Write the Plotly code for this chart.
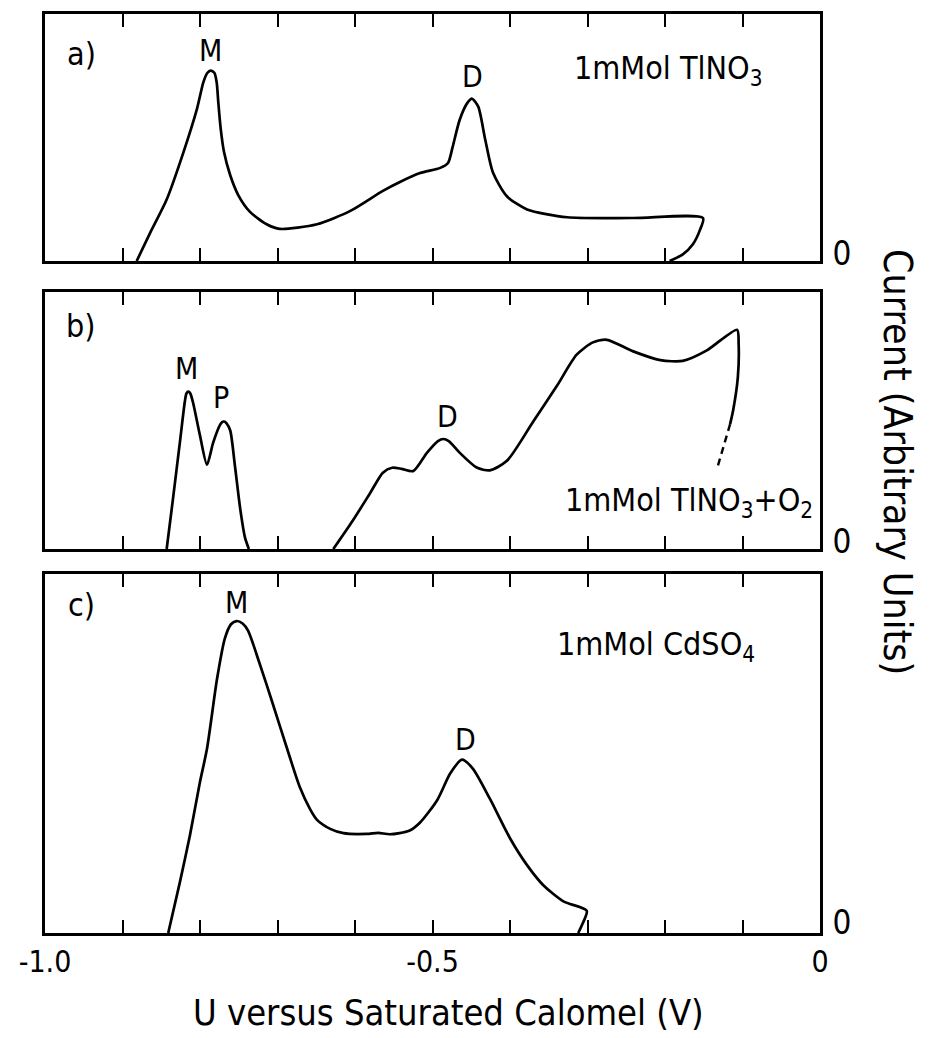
import plotly.graph_objects as go

# ---------------- data (U in V vs SCE, current in arbitrary units) ----------------
# panel a) 1 mMol TlNO3
a_u = [-0.8817, -0.8645, -0.843, -0.8215, -0.804, -0.7957, -0.7906, -0.7862, -0.7815,
       -0.7785, -0.7764, -0.7733, -0.769, -0.761, -0.7505, -0.7355, -0.714, -0.697,
       -0.649, -0.606, -0.564, -0.542, -0.516, -0.490, -0.480, -0.474, -0.465, -0.455,
       -0.449, -0.441, -0.432, -0.422, -0.404, -0.378, -0.326, -0.241, -0.151,
       -0.155, -0.164, -0.177, -0.194]
a_i = [0.0, 1.13, 2.49, 4.39, 6.15, 7.23, 7.61, 7.71, 7.62,
       7.24, 6.43, 5.36, 4.41, 3.47, 2.66, 1.99, 1.49, 1.30,
       1.49, 2.03, 2.84, 3.20, 3.56, 3.77, 3.97, 4.62, 5.71, 6.40,
       6.57, 6.25, 4.92, 3.58, 2.62, 2.09, 1.77, 1.74, 1.74,
       1.25, 0.68, 0.27, 0.0]

# panel b) 1 mMol TlNO3 + O2  (two branches + dashed continuation)
b1_u = [-0.843, -0.835, -0.826, -0.8195, -0.8175, -0.815, -0.8125, -0.809, -0.800, -0.791,
        -0.783, -0.774, -0.7715, -0.769, -0.766, -0.761, -0.755, -0.748, -0.742, -0.737]
b1_i = [0.0, 1.92, 4.14, 5.75, 6.05, 6.12, 6.05, 5.70, 4.41, 3.28,
        4.14, 4.84, 4.94, 4.96, 4.90, 4.61, 3.25, 1.54, 0.45, 0.0]
b2_u = [-0.628, -0.603, -0.581, -0.564, -0.552, -0.540, -0.525, -0.507, -0.493, -0.486,
        -0.479, -0.465, -0.443, -0.426, -0.404, -0.370, -0.339, -0.314, -0.293, -0.275,
        -0.241, -0.206, -0.177, -0.146, -0.107, -0.105, -0.106, -0.112, -0.116]
b2_i = [0.0, 1.10, 2.15, 2.97, 3.16, 3.12, 3.03, 3.75, 4.20, 4.28,
        4.20, 3.75, 3.17, 3.06, 3.43, 4.96, 6.37, 7.56, 8.04, 8.14,
        7.69, 7.35, 7.32, 7.73, 8.53, 7.98, 6.69, 5.41, 4.86]
b3_u = [-0.116, -0.133]
b3_i = [4.86, 3.11]

# panel c) 1 mMol CdSO4
c_u = [-0.841, -0.826, -0.813, -0.800, -0.791, -0.778, -0.768, -0.760, -0.7527, -0.745,
       -0.738, -0.723, -0.706, -0.688, -0.671, -0.658, -0.649, -0.632, -0.615, -0.585,
       -0.570, -0.555, -0.530, -0.516, -0.494, -0.477, -0.462, -0.448, -0.426, -0.400,
       -0.378, -0.357, -0.331, -0.301, -0.307, -0.312]
c_i = [0.0, 1.41, 2.72, 4.21, 5.13, 7.08, 8.20, 8.60, 8.69, 8.62,
       8.42, 7.50, 6.38, 5.16, 4.05, 3.45, 3.15, 2.90, 2.78, 2.76,
       2.79, 2.75, 2.85, 3.08, 3.70, 4.45, 4.83, 4.58, 3.74, 2.64,
       1.89, 1.33, 0.88, 0.62, 0.23, 0.0]

x_major = [-1.0, -0.5, 0.0]
x_ticklabels = ["-1.0", "-0.5", "0"]
x_minor_step = 0.1
x_title = "U versus Saturated Calomel (V)"
y_title = "Current (Arbitrary Units)"

# ---------------- figure ----------------
W, H = 929, 1038
ML, MR, MT, MB = 45, 109, 14, 105
PW, PH = W - ML - MR, H - MT - MB
FONT = "DejaVu Sans Condensed, Liberation Sans Narrow, DejaVu Sans, sans-serif"


def px(x, y):
    return (x - ML) / PW, (H - MB - y) / PH


LINE = dict(color="black", width=2.7, shape="spline", smoothing=0.7)
fig = go.Figure()
fig.add_trace(go.Scatter(x=a_u, y=a_i, mode="lines", line=LINE, xaxis="x", yaxis="y"))
fig.add_trace(go.Scatter(x=b1_u, y=b1_i, mode="lines", line=LINE, xaxis="x2", yaxis="y2"))
fig.add_trace(go.Scatter(x=b2_u, y=b2_i, mode="lines", line=LINE, xaxis="x2", yaxis="y2"))
fig.add_trace(go.Scatter(x=b3_u, y=b3_i, mode="lines",
                         line=dict(color="black", width=2.4, dash="7px,5px"),
                         xaxis="x2", yaxis="y2"))
fig.add_trace(go.Scatter(x=c_u, y=c_i, mode="lines", line=LINE, xaxis="x3", yaxis="y3"))

domains = {
    "a": [px(0, 261)[1], px(0, 14)[1]],
    "b": [px(0, 549)[1], px(0, 292)[1]],
    "c": [px(0, 933)[1], px(0, 574)[1]],
}


def xax(anchor, show_labels):
    return dict(domain=[0, 1], anchor=anchor, range=[-1.0, 0.0], tickmode="array",
                tickvals=x_major, ticktext=x_ticklabels, showticklabels=show_labels,
                ticks="inside", ticklen=13, tickwidth=2, tickcolor="black",
                minor=dict(dtick=x_minor_step, tick0=0, ticks="inside", ticklen=13,
                           tickwidth=2, tickcolor="black", showgrid=False),
                showline=True, linewidth=2.7, linecolor="black", mirror="ticks",
                showgrid=False, zeroline=False,
                tickfont=dict(family=FONT, size=30, color="black"),
                ticklabelstandoff=0)


def yax(anchor, dom):
    return dict(domain=dom, anchor=anchor, range=[0, 10], side="right",
                tickmode="array", tickvals=[0.3], ticktext=["0"], ticks="",
                showline=True, linewidth=2.7, linecolor="black", mirror=True,
                showgrid=False, zeroline=False, ticklabelstandoff=3,
                tickfont=dict(family=FONT, size=33, color="black"))


fig.update_layout(
    width=W, height=H,
    margin=dict(l=ML, r=MR, t=MT, b=MB, autoexpand=False),
    paper_bgcolor="white", plot_bgcolor="white", showlegend=False,
    xaxis=xax("y", False), yaxis=yax("x", domains["a"]),
    xaxis2=xax("y2", False), yaxis2=yax("x2", domains["b"]),
    xaxis3=xax("y3", True), yaxis3=yax("x3", domains["c"]),
)

labels = [
    ("a)", 81, 54, "center", 32), ("M", 210, 51, "center", 30), ("D", 472, 77, "center", 30),
    ("1mMol TlNO<sub>3</sub>", 572, 70, "left", 32),
    ("b)", 81, 326, "center", 32), ("M", 186, 368, "center", 30), ("P", 221, 397, "center", 30),
    ("D", 447, 416, "center", 30),
    ("1mMol TlNO<sub>3</sub>+O<sub>2</sub>", 563, 502, "left", 32),
    ("c)", 81, 605, "center", 32), ("M", 236, 602, "center", 30), ("D", 465, 739, "center", 30),
    ("1mMol CdSO<sub>4</sub>", 555, 646, "left", 32),
]
for text, x, y, anchor, size in labels:
    ax_, ay_ = px(x, y)
    fig.add_annotation(text=text, x=ax_, y=ay_, xref="paper", yref="paper",
                       xanchor=anchor, yanchor="middle", showarrow=False,
                       font=dict(family=FONT, size=size, color="black"))

tx, ty = px(448, 1012)
fig.add_annotation(text=x_title, x=tx, y=ty, xref="paper", yref="paper",
                   xanchor="center", yanchor="middle", showarrow=False,
                   font=dict(family=FONT, size=36, color="black"))
rx, ry = px(897, 462)
fig.add_annotation(text=y_title, x=rx, y=ry, xref="paper", yref="paper",
                   xanchor="center", yanchor="middle", showarrow=False, textangle=90,
                   font=dict(family=FONT, size=39, color="black"))

fig.write_html("out.html")
